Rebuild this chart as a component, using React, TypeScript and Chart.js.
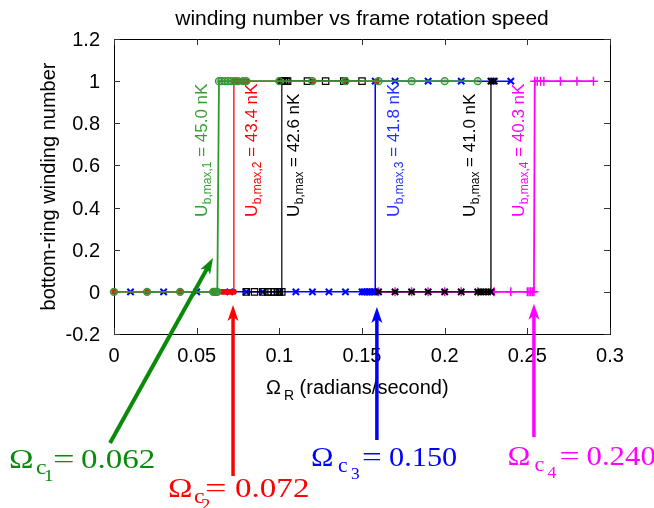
import React, { useEffect, useRef } from "react";
import { Chart, registerables } from "chart.js";

Chart.register(...registerables);

// ---------- data ----------
const xTicks = [0, 0.05, 0.1, 0.15, 0.2, 0.25, 0.3];
const xTickLabels = ["0", "0.05", "0.1", "0.15", "0.2", "0.25", "0.3"];
const yTicks = [-0.2, 0, 0.2, 0.4, 0.6, 0.8, 1, 1.2];
const yTickLabels = ["-0.2", "0", "0.2", "0.4", "0.6", "0.8", "1", "1.2"];

// U_b,max = 45.0 nK (green)
const greenX = [0, 0.02, 0.04, 0.06, 0.061, 0.062, 0.0625, 0.0635, 0.065, 0.067, 0.069, 0.071, 0.073, 0.075, 0.078, 0.08, 0.1, 0.12, 0.14, 0.16, 0.18, 0.2, 0.22];
const greenY = [0, 0, 0, 0, 0, 0, 0, 1, 1, 1, 1, 1, 1, 1, 1, 1, 1, 1, 1, 1, 1, 1, 1];
// U_b,max = 43.4 nK (red)
const redX = [0, 0.02, 0.04, 0.06, 0.065, 0.066, 0.067, 0.068, 0.069, 0.07, 0.071, 0.072, 0.0725, 0.0725, 0.074, 0.076, 0.078, 0.08, 0.1, 0.12, 0.14, 0.159];
const redY = [0, 0, 0, 0, 0, 0, 0, 0, 0, 0, 0, 0, 0, 1, 1, 1, 1, 1, 1, 1, 1, 1];
// U_b,max = 42.6 nK (black, squares)
const black1X = [0.08, 0.085, 0.09, 0.093, 0.095, 0.097, 0.099, 0.1, 0.1015, 0.1015, 0.102, 0.103, 0.104, 0.105, 0.117, 0.128, 0.139, 0.15];
const black1Y = [0, 0, 0, 0, 0, 0, 0, 0, 0, 1, 1, 1, 1, 1, 1, 1, 1, 1];
// U_b,max = 41.8 nK (blue)
const blueX = [0.01, 0.03, 0.05, 0.07, 0.08, 0.09, 0.1, 0.11, 0.12, 0.13, 0.14, 0.15, 0.151, 0.152, 0.153, 0.154, 0.155, 0.156, 0.157, 0.158, 0.158, 0.17, 0.19, 0.21, 0.229, 0.24];
const blueY = [0, 0, 0, 0, 0, 0, 0, 0, 0, 0, 0, 0, 0, 0, 0, 0, 0, 0, 0, 0, 1, 1, 1, 1, 1, 1];
// U_b,max = 41.0 nK (black, crosses)
const black2X = [0.16, 0.17, 0.18, 0.19, 0.2, 0.21, 0.22, 0.222, 0.224, 0.226, 0.228, 0.228, 0.23];
const black2Y = [0, 0, 0, 0, 0, 0, 0, 0, 0, 0, 0, 1, 1];
// U_b,max = 40.3 nK (magenta)
const magentaX = [0.16, 0.17, 0.18, 0.19, 0.2, 0.21, 0.22, 0.23, 0.24, 0.25, 0.251, 0.252, 0.253, 0.254, 0.2545, 0.256, 0.258, 0.26, 0.27, 0.28, 0.29];
const magentaY = [0, 0, 0, 0, 0, 0, 0, 0, 0, 0, 0, 0, 0, 0, 1, 1, 1, 1, 1, 1, 1];

const seriesSubs = ["b,max,1", "b,max,2", "b,max", "b,max,3", "b,max", "b,max,4"];
const seriesValues = ["45.0", "43.4", "42.6", "41.8", "41.0", "40.3"];

const criticalSubs = ["1", "2", "3", "4"];
const criticalValues = ["0.062", "0.072", "0.150", "0.240"];

const titleText = "winding number vs frame rotation speed";
const yTitle = "bottom-ring winding number";

// ---------- styles / layout ----------
const GREEN_LINE = "#2f9a2f";
const GREEN_DARK = "#0a8a0a";
const SANS = '"Liberation Sans", Arial, Helvetica, sans-serif';
const SERIF = '"Liberation Serif", "Times New Roman", serif';

const seriesStyles = [
  { x: greenX, y: greenY, color: GREEN_LINE, width: 1.8, style: "circle", r: 3.5, pbw: 1.3, fill: "rgba(70,140,70,0.35)", order: 2 },
  { x: redX, y: redY, color: "#ff0000", width: 1.3, style: "rect", r: 3, pbw: 1, fill: "#ff0000", order: 4 },
  { x: black1X, y: black1Y, color: "#000000", width: 1.2, style: "rect", r: 4.5, pbw: 1.2, fill: "rgba(255,255,255,0)", order: 3 },
  { x: blueX, y: blueY, color: "#0000ff", width: 1.5, style: "crossRot", r: 4.5, pbw: 2, fill: "#0000ff", order: 5 },
  { x: black2X, y: black2Y, color: "#000000", width: 1.3, style: "crossRot", r: 4.5, pbw: 2, fill: "#000000", order: 1 },
  { x: magentaX, y: magentaY, color: "#ff00ff", width: 1.8, style: "cross", r: 4.5, pbw: 1.5, fill: "#ff00ff", order: 6 },
];

// rotated series labels: baseline start point in data coords
const seriesLabelLayout = [
  { x: 0.0563, y: 0.355, color: "#33a033" },
  { x: 0.0865, y: 0.355, color: "#ff0000" },
  { x: 0.1119, y: 0.355, color: "#000000" },
  { x: 0.1724, y: 0.355, color: "#2233ff" },
  { x: 0.2184, y: 0.355, color: "#000000" },
  { x: 0.248, y: 0.355, color: "#ff00ff" },
];

// arrows (data coords, may lie outside the plot)
const arrowLayout = [
  { tx: -0.0024, ty: -0.717, hx: 0.0599, hy: 0.161, color: GREEN_DARK, w: 4 },
  { tx: 0.072, ty: -0.874, hx: 0.072, hy: -0.062, color: "#ff0000", w: 3.5 },
  { tx: 0.159, ty: -0.703, hx: 0.159, hy: -0.072, color: "#0000ff", w: 3.5 },
  { tx: 0.254, ty: -0.689, hx: 0.254, hy: -0.057, color: "#ff00ff", w: 3.5 },
];

// critical-speed labels (Omega baseline start in data coords)
const criticalLayout = [
  { x: -0.0635, y: -0.836, color: GREEN_DARK, hs: 1.18, c: 27, s: 35, e: 44, n: 72 },
  { x: 0.0327, y: -0.973, color: "#ff0000", hs: 1.18, c: 26, s: 33, e: 37, n: 67 },
  { x: 0.1192, y: -0.826, color: "#0000ff", hs: 1.08, c: 27, s: 40, e: 51, n: 78 },
  { x: 0.238, y: -0.821, color: "#ff00ff", hs: 1.1, c: 27, s: 40, e: 52, n: 79 },
];

function drawArrow(ctx: CanvasRenderingContext2D, x0: number, y0: number, x1: number, y1: number, color: string, w: number) {
  const dx = x1 - x0;
  const dy = y1 - y0;
  const len = Math.hypot(dx, dy);
  const ux = dx / len;
  const uy = dy / len;
  const hl = 16;
  const hw = 5.5;
  const bx = x1 - ux * hl;
  const by = y1 - uy * hl;
  ctx.save();
  ctx.strokeStyle = color;
  ctx.fillStyle = color;
  ctx.lineWidth = w;
  ctx.lineCap = "butt";
  ctx.beginPath();
  ctx.moveTo(x0, y0);
  ctx.lineTo(x1 - ux * hl * 0.6, y1 - uy * hl * 0.6);
  ctx.stroke();
  ctx.beginPath();
  ctx.moveTo(x1, y1);
  ctx.lineTo(bx - uy * hw, by + ux * hw);
  ctx.lineTo(x1 - ux * hl * 0.75, y1 - uy * hl * 0.75);
  ctx.lineTo(bx + uy * hw, by - ux * hw);
  ctx.closePath();
  ctx.fill();
  ctx.restore();
}

const decorPlugin = {
  id: "decor",
  beforeDatasetsDraw(chart: any) {
    const ctx: CanvasRenderingContext2D = chart.ctx;
    const { left, right, top, bottom } = chart.chartArea;
    const xs = chart.scales.x;
    const ys = chart.scales.y;
    ctx.save();
    // border
    ctx.strokeStyle = "#000";
    ctx.lineWidth = 1;
    ctx.strokeRect(Math.round(left) + 0.5, Math.round(top) + 0.5, Math.round(right - left), Math.round(bottom - top));
    // ticks (inward, mirrored)
    ctx.strokeStyle = "#333";
    ctx.beginPath();
    xTicks.forEach((v) => {
      const px = Math.round(xs.getPixelForValue(v)) + 0.5;
      ctx.moveTo(px, bottom);
      ctx.lineTo(px, bottom - 6);
      ctx.moveTo(px, top);
      ctx.lineTo(px, top + 6);
    });
    yTicks.forEach((v) => {
      const py = Math.round(ys.getPixelForValue(v)) + 0.5;
      ctx.moveTo(left, py);
      ctx.lineTo(left + 6, py);
      ctx.moveTo(right, py);
      ctx.lineTo(right - 6, py);
    });
    ctx.stroke();
    // tick labels
    ctx.fillStyle = "#000";
    ctx.font = `20px ${SANS}`;
    ctx.textBaseline = "alphabetic";
    ctx.textAlign = "center";
    xTicks.forEach((v, i) => {
      ctx.fillText(xTickLabels[i], xs.getPixelForValue(v), bottom + 28);
    });
    ctx.textAlign = "right";
    yTicks.forEach((v, i) => {
      ctx.fillText(yTickLabels[i], left - 14, ys.getPixelForValue(v) + 7);
    });
    // title
    ctx.textAlign = "center";
    ctx.font = `21px ${SANS}`;
    ctx.fillText(titleText, (left + right) / 2, 25);
    // x title: Omega_R (radians/second)
    ctx.textAlign = "left";
    let x = 266;
    const by = 394;
    ctx.font = `20px ${SANS}`;
    ctx.fillText("Ω", x, by);
    x += ctx.measureText("Ω").width + 3;
    ctx.font = `14px ${SANS}`;
    ctx.fillText("R", x, by + 6);
    x += ctx.measureText("R").width;
    ctx.font = `20px ${SANS}`;
    ctx.fillText(" (radians/second)", x, by);
    // y title
    ctx.save();
    ctx.translate(55, (top + bottom) / 2);
    ctx.rotate(-Math.PI / 2);
    ctx.textAlign = "center";
    ctx.font = `20px ${SANS}`;
    ctx.fillText(yTitle, 0, 0);
    ctx.restore();
    ctx.restore();
  },
  afterDatasetsDraw(chart: any) {
    const ctx: CanvasRenderingContext2D = chart.ctx;
    const xs = chart.scales.x;
    const ys = chart.scales.y;
    ctx.save();
    // rotated series labels
    seriesLabelLayout.forEach((l, i) => {
      ctx.save();
      ctx.translate(xs.getPixelForValue(l.x), ys.getPixelForValue(l.y));
      ctx.rotate(-Math.PI / 2);
      ctx.fillStyle = l.color;
      ctx.textAlign = "left";
      ctx.textBaseline = "alphabetic";
      let x = 0;
      ctx.font = `17px ${SANS}`;
      ctx.fillText("U", x, 0);
      x += ctx.measureText("U").width + 0.5;
      ctx.font = `12px ${SANS}`;
      ctx.fillText(seriesSubs[i], x, 4);
      x += ctx.measureText(seriesSubs[i]).width;
      ctx.font = `17px ${SANS}`;
      ctx.fillText(` = ${seriesValues[i]} nK`, x, 0);
      ctx.restore();
    });
    // arrows
    arrowLayout.forEach((a) => {
      drawArrow(
        ctx,
        xs.getPixelForValue(a.tx),
        ys.getPixelForValue(a.ty),
        xs.getPixelForValue(a.hx),
        ys.getPixelForValue(a.hy),
        a.color,
        a.w
      );
    });
    // critical labels
    criticalLayout.forEach((c, i) => {
      const px = xs.getPixelForValue(c.x);
      const py = ys.getPixelForValue(c.y);
      ctx.fillStyle = c.color;
      ctx.textAlign = "left";
      ctx.textBaseline = "alphabetic";
      const put = (t: string, dx: number, dy: number, size: number, hs: number) => {
        ctx.save();
        ctx.translate(px + dx, py + dy);
        ctx.scale(hs, 1);
        ctx.font = `${size}px ${SERIF}`;
        ctx.fillText(t, 0, 0);
        ctx.restore();
      };
      put("Ω", 0, 0, 28, c.hs);
      put("c", c.c, 6, 20, c.hs);
      put(criticalSubs[i], c.s, 13, 16, c.hs);
      put("=", c.e, 0, 27, c.hs * 1.2);
      put(criticalValues[i], c.n, 0, 28, c.hs);
    });
    ctx.restore();
  },
};

export default function App() {
  const ref = useRef<HTMLCanvasElement | null>(null);
  useEffect(() => {
    if (!ref.current) return;
    const chart = new Chart(ref.current, {
      type: "line",
      data: {
        datasets: seriesStyles.map((s) => ({
          data: s.x.map((x, i) => ({ x, y: s.y[i] })),
          borderColor: s.color,
          borderWidth: s.width,
          pointStyle: s.style as any,
          pointRadius: s.r,
          pointBorderWidth: s.pbw,
          pointBorderColor: s.color,
          pointBackgroundColor: s.fill,
          backgroundColor: s.fill,
          fill: false,
          tension: 0,
          order: s.order,
          clip: false as any,
        })),
      },
      options: {
        animation: false,
        responsive: true,
        maintainAspectRatio: false,
        events: [],
        layout: { padding: { left: 114, top: 39, right: 44, bottom: 174 } },
        scales: {
          x: { type: "linear", min: 0, max: 0.3, display: false },
          y: { type: "linear", min: -0.2, max: 1.2, display: false },
        },
        plugins: {
          legend: { display: false },
          tooltip: { enabled: false },
          title: { display: false },
        },
      },
      plugins: [decorPlugin],
    });
    return () => chart.destroy();
  }, []);
  return (
    <div style={{ position: "fixed", left: 0, top: 0, width: 654, height: 508, background: "#fff" }}>
      <canvas ref={ref} />
    </div>
  );
}
